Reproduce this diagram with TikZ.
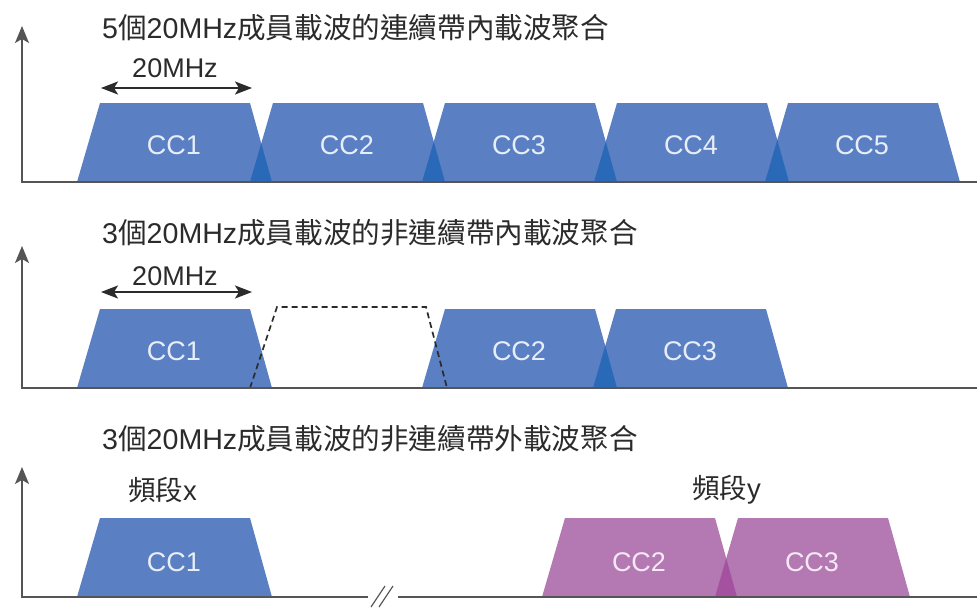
\documentclass[tikz,border=0pt]{standalone}
\usepackage{fontspec}
\setmainfont{Liberation Sans}
\newfontfamily\cjk{Noto Sans CJK TC}
\usetikzlibrary{arrows.meta}
\definecolor{ccblue}{HTML}{5A7FC2}
\definecolor{ccbluedk}{HTML}{2A69B8}
\definecolor{ccpurp}{HTML}{B478B2}
\definecolor{ccpurpdk}{HTML}{A4529F}
\definecolor{axisgray}{HTML}{555555}
\definecolor{txtgray}{HTML}{2B2B2B}
\definecolor{cctxt}{HTML}{E8EEF9}
\definecolor{cctxtp}{HTML}{F6E8F5}
\newcommand\zh[1]{{\cjk #1}}
\newcommand\ccpath[2]{(#1,#2) -- ++(23,-79) -- ++(150,0) -- ++(22,79) -- cycle}
\begin{document}
\begin{tikzpicture}[x=1pt,y=-1pt,
  ttl/.style={font=\fontsize{28.6}{30}\selectfont, text=txtgray, inner sep=0pt, anchor=base west},
  lbl/.style={font=\fontsize{27}{29}\selectfont, text=txtgray, inner sep=0pt},
  cclbl/.style={font=\fontsize{27}{29}\selectfont, text=cctxt, inner sep=0pt},
  cclblp/.style={cclbl, text=cctxtp},
  axisline/.style={draw=axisgray, line width=1.5pt, {Stealth[length=17pt,width=14pt,inset=4pt]}-},
  baseline/.style={draw=axisgray, line width=1.5pt},
  spanarrow/.style={draw=txtgray, line width=2pt, {Stealth[length=17pt,width=13pt,inset=4pt]}-{Stealth[length=17pt,width=13pt,inset=4pt]}},
  dashedslot/.style={draw=txtgray, line width=1.7pt, dash pattern=on 6pt off 4pt},
]
\useasboundingbox[fill=white] (0,0) rectangle (977,608);

% ---------------- Panel 1 ----------------
\node[ttl] (t1) at (102,38) {5\zh{個}20MHz\zh{成員載波的連續帶內載波聚合}};
\coordinate (a1top) at (22,26);
\coordinate (a1o) at (22,182);
\coordinate (a1end) at (977,182);
\foreach \b in {77,250,422,594,765}{\fill[ccblue] \ccpath{\b}{182};}
\foreach \b/\c in {77/250,250/422,422/594,594/765}{
  \begin{scope}\clip \ccpath{\b}{182}; \fill[ccbluedk] \ccpath{\c}{182};\end{scope}}
\draw[axisline] (a1top) -- (a1o) -- (a1end);
\coordinate (s1l) at (101,88);
\coordinate (s1r) at (252,88);
\draw[spanarrow] (s1l) -- (s1r);
\node[lbl, anchor=base] (w1) at (175,77) {20MHz};
\node[cclbl] (p1c1) at (174,145) {CC1};
\node[cclbl] (p1c2) at (347,145) {CC2};
\node[cclbl] (p1c3) at (519,145) {CC3};
\node[cclbl] (p1c4) at (691,145) {CC4};
\node[cclbl] (p1c5) at (862,145) {CC5};

% ---------------- Panel 2 ----------------
\node[ttl] (t2) at (102,243) {3\zh{個}20MHz\zh{成員載波的非連續帶內載波聚合}};
\coordinate (a2top) at (22,246);
\coordinate (a2o) at (22,388);
\coordinate (a2end) at (977,388);
\foreach \b in {77,422,593}{\fill[ccblue] \ccpath{\b}{388};}
\begin{scope}\clip \ccpath{422}{388}; \fill[ccbluedk] \ccpath{593}{388};\end{scope}
\draw[dashedslot] (250,388) -- (277,307) -- (426,307) -- (447,388);
\draw[axisline] (a2top) -- (a2o) -- (a2end);
\coordinate (s2l) at (101,292);
\coordinate (s2r) at (252,292);
\draw[spanarrow] (s2l) -- (s2r);
\node[lbl, anchor=base] (w2) at (175,285) {20MHz};
\node[cclbl] (p2c1) at (174,351) {CC1};
\node[cclbl] (p2c2) at (519,351) {CC2};
\node[cclbl] (p2c3) at (690,351) {CC3};

% ---------------- Panel 3 ----------------
\node[ttl] (t3) at (102,449) {3\zh{個}20MHz\zh{成員載波的非連續帶外載波聚合}};
\coordinate (a3top) at (22,467);
\coordinate (a3o) at (22,597);
\coordinate (a3brk) at (368,597);
\coordinate (a3re) at (398,597);
\coordinate (a3end) at (977,597);
\fill[ccblue] \ccpath{77}{597};
\fill[ccpurp] \ccpath{542}{597};
\fill[ccpurp] \ccpath{715}{597};
\begin{scope}\clip \ccpath{542}{597}; \fill[ccpurpdk] \ccpath{715}{597};\end{scope}
\draw[axisline] (a3top) -- (a3o) -- (a3brk);
\draw[baseline] (a3re) -- (a3end);
\coordinate (k1a) at (371,607);
\coordinate (k1b) at (385,586);
\coordinate (k2a) at (379,607);
\coordinate (k2b) at (393,586);
\draw[baseline, line width=1.2pt] (k1a) -- (k1b);
\draw[baseline, line width=1.2pt] (k2a) -- (k2b);
\node[lbl, font=\fontsize{27.5}{29}\selectfont, anchor=base west] (bx) at (128,500) {\zh{頻段}x};
\node[lbl, font=\fontsize{27.5}{29}\selectfont, anchor=base west] (by) at (692,498) {\zh{頻段}y};
\node[cclbl] (p3c1) at (174,562) {CC1};
\node[cclblp] (p3c2) at (639,562) {CC2};
\node[cclblp] (p3c3) at (812,562) {CC3};
\end{tikzpicture}
\end{document}
